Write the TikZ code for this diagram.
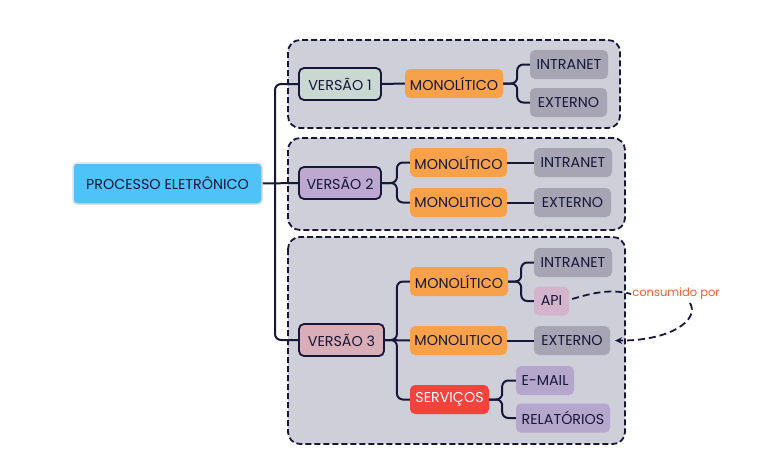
\documentclass[tikz,border=0pt]{standalone}
\usepackage{fontspec}
\setmainfont{Poppins}
\usetikzlibrary{arrows.meta}
\definecolor{navy}{HTML}{17173A}
\definecolor{grpfill}{HTML}{CFCFD9}
\definecolor{mainblue}{HTML}{4FC3F7}
\definecolor{vone}{HTML}{C9D8D1}
\definecolor{vtwo}{HTML}{BDA9CF}
\definecolor{vthree}{HTML}{D9AEB6}
\definecolor{orng}{HTML}{F7A24B}
\definecolor{grynode}{HTML}{A7A5B4}
\definecolor{apifill}{HTML}{D4B3CC}
\definecolor{lavnode}{HTML}{B4A7CB}
\definecolor{redfill}{HTML}{F4433C}
\definecolor{lblcol}{HTML}{F4602E}
\begin{document}
\begin{tikzpicture}[x=1pt,y=-1pt,
  box/.style={rounded corners=5pt, inner sep=0pt, minimum height=29pt, text=navy,
    font=\fontsize{14.3}{15}\selectfont},
  vbox/.style={box, draw=navy, line width=1.8pt, minimum height=32pt},
  grp/.style={draw=navy, line width=1.8pt, dash pattern=on 6pt off 3pt, fill=grpfill, rounded corners=12pt},
  conn/.style={draw=navy, line width=2pt, rounded corners=6pt}]
\useasboundingbox (0,0) rectangle (770,455);
\fill[white] (0,0) rectangle (770,455);
% groups
\draw[grp] (288,40) rectangle (620,128);
\draw[grp] (288,138) rectangle (625,230);
\draw[grp] (288,237) rectangle (625,444);
% nodes
\node[box, fill=mainblue, draw=white!88!black, line width=1.5pt, minimum width=189pt, minimum height=41pt, rounded corners=4pt] (main) at (167.5,183.5) {PROCESSO ELETRÔNICO};
\node[vbox, fill=vone, minimum width=82pt] (v1) at (340,84) {VERSÃO 1};
\node[vbox, fill=vtwo, minimum width=82pt] (v2) at (340,183) {VERSÃO 2};
\node[vbox, fill=vthree, minimum width=85pt] (v3) at (341.5,340) {VERSÃO 3};
\node[box, fill=orng, minimum width=98pt] (m1) at (454,83.5) {MONOLÍTICO};
\node[box, fill=grynode, minimum width=78pt] (i1) at (569,64.5) {INTRANET};
\node[box, fill=grynode, minimum width=77pt] (e1) at (568.5,102.5) {EXTERNO};
\node[box, fill=orng, minimum width=97pt] (m2a) at (458.5,162.5) {MONOLÍTICO};
\node[box, fill=orng, minimum width=97pt] (m2b) at (458.5,202.5) {MONOLITICO};
\node[box, fill=grynode, minimum width=78pt] (i2) at (573,162.5) {INTRANET};
\node[box, fill=grynode, minimum width=77pt] (e2) at (572.5,202.5) {EXTERNO};
\node[box, fill=orng, minimum width=98pt] (m3a) at (459,281.5) {MONOLÍTICO};
\node[box, fill=grynode, minimum width=78pt] (i3) at (573,262.5) {INTRANET};
\node[box, fill=apifill, minimum width=35pt] (api) at (551.5,301) {API};
\node[box, fill=orng, minimum width=97pt] (m3b) at (458.5,340.5) {MONOLITICO};
\node[box, fill=grynode, minimum width=76pt] (e3) at (572,340.5) {EXTERNO};
\node[box, fill=redfill, text=white, minimum width=79pt] (sv) at (449.5,399.5) {SERVIÇOS};
\node[box, fill=lavnode, minimum width=58pt] (em) at (545,380.5) {E-MAIL};
\node[box, fill=lavnode, minimum width=94pt] (rl) at (563,418) {RELATÓRIOS};
\node[text=lblcol, inner sep=1pt, font=\fontsize{11.5}{12}\selectfont] (lbl) at (676,294) {consumido por};
% connectors
\draw[conn] (main.east) -- (v2.west);
\draw[conn] (v1.west) -- (275,84) -- (275,340) -- (v3.west);
\draw[conn] (m1.east) -- ++(14,0) |- (i1.west);
\draw[conn] (m1.east) -- ++(14,0) |- (e1.west);
\draw[conn] (v1.east) -- (m1.west);
\draw[conn] (v2.east) -- ++(15,0) |- (m2a.west);
\draw[conn] (v2.east) -- ++(15,0) |- (m2b.west);
\draw[conn] (m2a.east) -- (i2.west);
\draw[conn] (m2b.east) -- (e2.west);
\draw[conn] (v3.east) -- ++(12,0) |- (m3a.west);
\draw[conn] (v3.east) -- ++(12,0) |- (sv.west);
\draw[conn] (v3.east) -- (m3b.west);
\draw[conn] (m3b.east) -- (e3.west);
\draw[conn] (m3a.east) -- ++(13,0) |- (i3.west);
\draw[conn] (m3a.east) -- ++(13,0) |- (api.west);
\draw[conn] (sv.east) -- ++(13,0) |- (em.west);
\draw[conn] (sv.east) -- ++(13,0) |- (rl.west);
% dashed relation
\coordinate (lbs) at (690,303);
\draw[navy, line width=1.8pt, dash pattern=on 7pt off 4pt] (api.east) ++(3,-2) .. controls (595,292) and (612,289) .. (lbl.west);
\draw[navy, line width=1.8pt, dash pattern=on 7pt off 4pt, -{Stealth[length=7pt,width=7pt]}] (lbs) .. controls (700,320) and (670,341) .. ([xshift=5pt]e3.east);
\end{tikzpicture}
\end{document}
